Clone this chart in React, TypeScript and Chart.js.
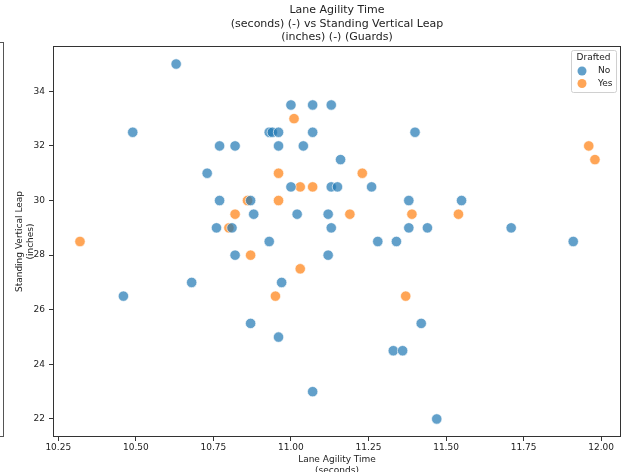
import React, { useEffect, useRef } from "react";
import { Chart, registerables } from "chart.js";

Chart.register(...registerables);

const titleLines = [
  "Lane Agility Time",
  "(seconds) (-) vs Standing Vertical Leap",
  "(inches) (-) (Guards)",
];
const xTitle = ["Lane Agility Time", "(seconds)"];
const yTitle = ["Standing Vertical Leap", "(inches)"];
const legendTitle = "Drafted";
const seriesNames = ["No", "Yes"];

const xTicks = [10.25, 10.5, 10.75, 11.0, 11.25, 11.5, 11.75, 12.0];
const yTicks = [22, 24, 26, 28, 30, 32, 34];

// Drafted = No
const noX = [
  10.63, 10.49, 10.77, 10.82, 10.73, 10.77, 10.87, 10.88, 10.76, 10.81,
  10.82, 10.68, 10.46, 10.87, 11.0, 11.07, 11.13, 10.93, 10.94, 10.96,
  11.07, 11.4, 10.96, 11.04, 11.16, 11.0, 11.13, 11.15, 11.26, 11.38,
  11.55, 11.02, 11.12, 11.13, 11.38, 11.44, 10.93, 11.28, 11.34, 11.71,
  11.91, 11.12, 10.97, 11.42, 10.96, 11.33, 11.36, 11.07, 11.47,
];
const noY = [
  35, 32.5, 32, 32, 31, 30, 30, 29.5, 29, 29,
  28, 27, 26.5, 25.5, 33.5, 33.5, 33.5, 32.5, 32.5, 32.5,
  32.5, 32.5, 32, 32, 31.5, 30.5, 30.5, 30.5, 30.5, 30,
  30, 29.5, 29.5, 29, 29, 29, 28.5, 28.5, 28.5, 29,
  28.5, 28, 27, 25.5, 25, 24.5, 24.5, 23, 22,
];

// Drafted = Yes
const yesX = [
  10.86, 10.82, 10.8, 10.32, 10.87, 11.01, 10.96, 11.23, 11.03, 11.07,
  10.96, 11.19, 11.39, 11.54, 11.96, 11.98, 11.03, 10.95, 11.37,
];
const yesY = [
  30, 29.5, 29, 28.5, 28, 33, 31, 31, 30.5, 30.5,
  30, 29.5, 29.5, 29.5, 32, 31.5, 27.5, 26.5, 26.5,
];

const seriesColors = ["rgba(31,119,180,0.7)", "rgba(255,127,14,0.7)"];
const FONT = '"DejaVu Sans", sans-serif';

const decorPlugin = {
  id: "decor",
  afterDraw(chart: any) {
    const ctx = chart.ctx;
    const { left, right, top, bottom } = chart.chartArea;
    ctx.save();
    // frame
    ctx.strokeStyle = "#333";
    ctx.lineWidth = 1;
    ctx.strokeRect(left + 0.5, top + 0.5, right - left - 1, bottom - top - 1);

    // title
    ctx.fillStyle = "#222";
    ctx.font = `11px ${FONT}`;
    ctx.textAlign = "center";
    ctx.textBaseline = "middle";
    const cx = (left + right) / 2;
    titleLines.forEach((t, i) => {
      ctx.fillText(t, cx, top - 35.5 + i * 13.5);
    });

    // legend
    const bw = 45;
    const bh = 42;
    const bx = right - 5 - bw;
    const by = top + 4;
    ctx.beginPath();
    if ((ctx as any).roundRect) {
      (ctx as any).roundRect(bx + 0.5, by + 0.5, bw, bh, 2);
    } else {
      ctx.rect(bx + 0.5, by + 0.5, bw, bh);
    }
    ctx.fillStyle = "rgba(255,255,255,0.8)";
    ctx.fill();
    ctx.strokeStyle = "#d0d0d0";
    ctx.stroke();
    ctx.fillStyle = "#222";
    ctx.font = `9px ${FONT}`;
    ctx.textAlign = "center";
    ctx.fillText(legendTitle, bx + bw / 2, by + 8);
    chart.data.datasets.forEach((ds: any, i: number) => {
      const yy = by + 21 + i * 12.5;
      ctx.beginPath();
      ctx.arc(bx + 11, yy, 4.5, 0, Math.PI * 2);
      ctx.fillStyle = ds.backgroundColor;
      ctx.fill();
      ctx.fillStyle = "#222";
      ctx.textAlign = "left";
      ctx.fillText(ds.label, bx + 27, yy);
    });
    ctx.restore();
  },
};

export default function App() {
  const canvasRef = useRef<HTMLCanvasElement | null>(null);

  useEffect(() => {
    const canvas = canvasRef.current;
    if (!canvas) return;
    const seriesX = [noX, yesX];
    const seriesY = [noY, yesY];
    const datasets = seriesNames.map((name, si) => ({
      label: name,
      data: seriesX[si].map((x, i) => ({ x, y: seriesY[si][i] })),
      backgroundColor: seriesColors[si],
      borderColor: "rgba(255,255,255,0.8)",
      borderWidth: 0.8,
      pointRadius: 5.2,
      pointHoverRadius: 5.2,
    }));

    const chart = new Chart(canvas, {
      type: "scatter",
      data: { datasets },
      options: {
        animation: false,
        responsive: false,
        maintainAspectRatio: false,
        layout: { padding: { top: 46, right: 5, left: 0, bottom: 0 } },
        plugins: {
          legend: { display: false },
          title: { display: false },
          tooltip: { enabled: false },
        },
        scales: {
          x: {
            type: "linear",
            min: 10.233,
            max: 12.064,
            afterBuildTicks: (scale: any) => {
              scale.ticks = xTicks.map((v) => ({ value: v }));
            },
            afterFit: (scale: any) => {
              scale.height = 35;
            },
            ticks: {
              font: { family: FONT, size: 9 },
              color: "#222",
              padding: 1,
              autoSkip: false,
              maxRotation: 0,
              callback: (v: any) => Number(v).toFixed(2),
            },
            grid: {
              drawOnChartArea: false,
              drawTicks: true,
              tickLength: 4,
              color: "#333",
            },
            border: { display: false },
            title: {
              display: true,
              text: xTitle,
              color: "#222",
              font: { family: FONT, size: 9 },
              padding: { top: 0, bottom: -4 },
            },
          },
          y: {
            type: "linear",
            min: 21.34,
            max: 35.66,
            afterBuildTicks: (scale: any) => {
              scale.ticks = yTicks.map((v) => ({ value: v }));
            },
            afterFit: (scale: any) => {
              scale.width = 53;
            },
            ticks: {
              font: { family: FONT, size: 9 },
              color: "#222",
              padding: 4,
              autoSkip: false,
              callback: (v: any) => String(v),
            },
            grid: {
              drawOnChartArea: false,
              drawTicks: true,
              tickLength: 4,
              color: "#333",
            },
            border: { display: false },
            title: {
              display: true,
              text: yTitle,
              color: "#222",
              font: { family: FONT, size: 9 },
              padding: { top: 14, bottom: 0 },
            },
          },
        },
      },
      plugins: [decorPlugin],
    });
    return () => chart.destroy();
  }, []);

  return (
    <div style={{ position: "absolute", left: 0, top: 0, width: 627, height: 472, overflow: "hidden", background: "#fff" }}>
      <div
        style={{
          position: "absolute",
          left: -2,
          top: 42,
          width: 4,
          height: 393,
          border: "1px solid #555",
        }}
      />
      <canvas ref={canvasRef} width={627} height={472} style={{ display: "block", position: "absolute", left: 0, top: 0 }} />
    </div>
  );
}
